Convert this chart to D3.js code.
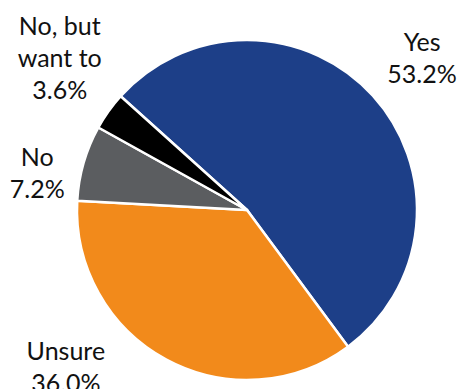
<!DOCTYPE html>
<html>
<head>
<meta charset="utf-8">
<script src="https://cdn.jsdelivr.net/npm/d3@7"></script>
<style>
  body { margin: 0; background: #fff; }
  text { font-family: Lato, "Open Sans", sans-serif; fill: #111; }
</style>
</head>
<body>
<svg id="chart" width="460" height="389"></svg>
<script>
// data
let categories = ["Yes", "Unsure", "No", "No, but want to"]
let values = [53.2, 36.0, 7.2, 3.6]
let valueLabels = ["53.2%", "36.0%", "7.2%", "3.6%"]
let labelLines = [["Yes"], ["Unsure"], ["No"], ["No, but", "want to"]]

let colors = ["#1d3f88", "#f28a1b", "#5b5d60", "#000000"]

let width = 460, height = 389
let cx = 247, cy = 210, radius = 170
let startDeg = -48

// label placement: angle (deg, clockwise from top) and distance from centre
let labelPos = [
  {a: 49, r: 232},
  {a: 229, r: 240},
  {a: 280, r: 213},
  {a: 309, r: 241}
]
let lineGap = 32

let svg = d3.select("#chart")
let g = svg.append("g").attr("transform", `translate(${cx},${cy})`)

let pie = d3.pie()
    .sort(null)
    .value(d => d)
    .startAngle(startDeg * Math.PI / 180)
    .endAngle((startDeg + 360) * Math.PI / 180)

let arc = d3.arc().innerRadius(0).outerRadius(radius)

let arcs = pie(values)

g.selectAll("path.slice")
    .data(arcs)
    .enter().append("path")
    .attr("class", "slice")
    .attr("d", arc)
    .attr("fill", (d, i) => colors[i])
    .attr("stroke", "#fff")
    .attr("stroke-width", 2.5)
    .attr("stroke-linejoin", "round")

let labels = g.selectAll("text.label")
    .data(arcs)
    .enter().append("text")
    .attr("class", "label")
    .attr("text-anchor", "middle")
    .attr("font-size", 25)
    .attr("transform", (d, i) => {
      let p = labelPos[i]
      let a = p.a * Math.PI / 180
      return `translate(${Math.sin(a) * p.r},${-Math.cos(a) * p.r})`
    })

labels.each(function (d, i) {
  let lines = labelLines[i].concat([valueLabels[i]])
  let t = d3.select(this)
  let y0 = -(lines.length - 1) * lineGap / 2
  lines.forEach((s, k) => {
    t.append("tspan")
      .attr("x", 0)
      .attr("y", y0 + k * lineGap)
      .attr("dy", "0.35em")
      .text(s)
  })
})
</script>
</body>
</html>
